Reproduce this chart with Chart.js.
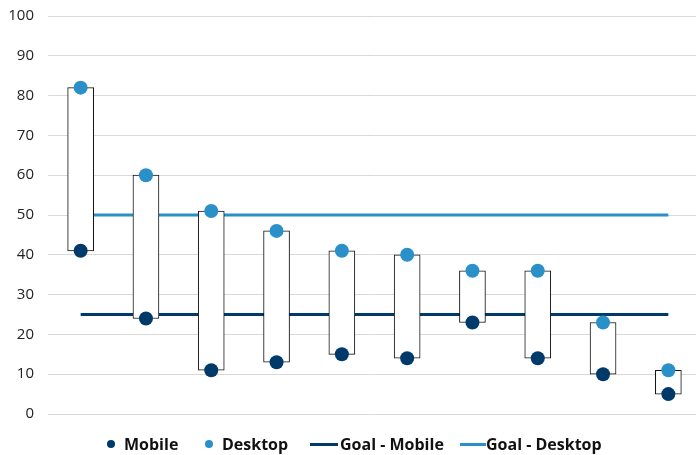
<!DOCTYPE html>
<html>
<head>
<meta charset="utf-8">
<script src="https://cdn.jsdelivr.net/npm/chart.js@4"></script>
<style>
  body { margin: 0; background: #fff; overflow: hidden; }
  #wrap { position: relative; width: 696px; height: 455px; overflow: hidden; }
  #legend { position: absolute; left: 0; top: 434px; width: 696px; height: 20px;
            font-family: "Open Sans", sans-serif; font-weight: 700; font-size: 16px; color: #111; }
  #legend .mk { position: absolute; }
  #legend .tx { position: absolute; top: 0; line-height: 20px; white-space: nowrap; }
</style>
</head>
<body>
<div id="wrap">
  <canvas id="myChart" width="701" height="455"></canvas>
  <div id="legend"></div>
</div>
<script>
const categories = ['1', '2', '3', '4', '5', '6', '7', '8', '9', '10'];
const mobile = [41, 24, 11, 13, 15, 14, 23, 14, 10, 5];
const desktop = [82, 60, 51, 46, 41, 40, 36, 36, 23, 11];
const goalMobile = [25, 25, 25, 25, 25, 25, 25, 25, 25, 25];
const goalDesktop = [50, 50, 50, 50, 50, 50, 50, 50, 50, 50];
const yTicks = [0, 10, 20, 30, 40, 50, 60, 70, 80, 90, 100];

const darkBlue = '#003a6b';
const lightBlue = '#2a90c8';

const ranges = mobile.map((m, i) => [m, desktop[i]]);

const ctx = document.getElementById('myChart');

new Chart(
    ctx, {
    type: 'bar',
    data: {
        labels: categories,
        datasets: [
            {
                type: 'line',
                label: 'Mobile',
                data: mobile,
                showLine: false,
                pointRadius: 7,
                pointHoverRadius: 7,
                pointBackgroundColor: darkBlue,
                pointBorderWidth: 0,
                order: 0
            },
            {
                type: 'line',
                label: 'Desktop',
                data: desktop,
                showLine: false,
                pointRadius: 7,
                pointHoverRadius: 7,
                pointBackgroundColor: lightBlue,
                pointBorderWidth: 0,
                order: 0
            },
            {
                label: 'range',
                data: ranges,
                backgroundColor: '#ffffff',
                borderColor: '#111111',
                borderWidth: 1,
                borderSkipped: false,
                barThickness: 26,
                order: 1
            },
            {
                type: 'line',
                label: 'Goal - Mobile',
                data: goalMobile,
                borderColor: darkBlue,
                borderWidth: 3,
                pointRadius: 0,
                order: 2
            },
            {
                type: 'line',
                label: 'Goal - Desktop',
                data: goalDesktop,
                borderColor: lightBlue,
                borderWidth: 3,
                pointRadius: 0,
                order: 2
            }
        ]
    },
    options: {
        responsive: false,
        animation: false,
        layout: { autoPadding: false, padding: { left: 7, right: 0, top: 16, bottom: 41 } },
        plugins: {
            legend: { display: false },
            tooltip: { enabled: false }
        },
        scales: {
            x: { display: false, offset: true },
            y: {
                min: 0,
                max: 100,
                afterBuildTicks: (axis) => { axis.ticks = yTicks.map(v => ({ value: v })); },
                afterFit: (axis) => { axis.width = 41; },
                border: { display: false },
                grid: { color: '#d9d9d9', drawTicks: true, tickLength: 11, tickColor: 'rgba(0,0,0,0)' },
                ticks: {
                    padding: 3,
                    color: '#222',
                    font: { family: 'Open Sans', size: 15 }
                }
            }
        }
    }
});

// legend drawn as html below the plot
const legendItems = [
    { text: 'Mobile', kind: 'dot', color: darkBlue, mx: 111, tx: 124 },
    { text: 'Desktop', kind: 'dot', color: lightBlue, mx: 209, tx: 222 },
    { text: 'Goal - Mobile', kind: 'line', color: darkBlue, mx: 310, w: 28, tx: 340 },
    { text: 'Goal - Desktop', kind: 'line', color: lightBlue, mx: 460, w: 26, tx: 486 }
];
const legend = document.getElementById('legend');
legendItems.forEach(it => {
    const mk = document.createElement('span');
    mk.className = 'mk';
    if (it.kind === 'dot') {
        mk.style.cssText = `left:${it.mx - 4}px;top:6px;width:8px;height:8px;border-radius:50%;background:${it.color}`;
    } else {
        mk.style.cssText = `left:${it.mx}px;top:9px;width:${it.w}px;height:3px;background:${it.color}`;
    }
    legend.appendChild(mk);
    const tx = document.createElement('span');
    tx.className = 'tx';
    tx.style.left = it.tx + 'px';
    tx.textContent = it.text;
    legend.appendChild(tx);
});
</script>
</body>
</html>
